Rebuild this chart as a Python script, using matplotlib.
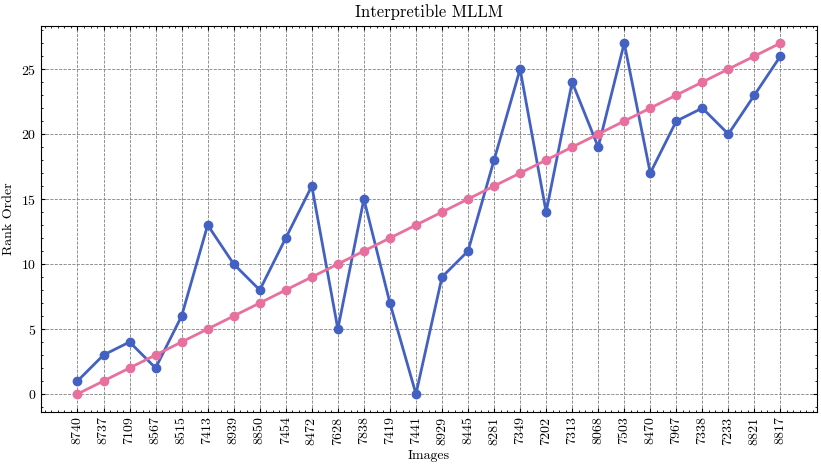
import matplotlib
matplotlib.use("Agg")
import matplotlib.pyplot as plt
from matplotlib.ticker import AutoMinorLocator

labels = ["8740","8737","7109","8567","8515","7413","8939","8850","7454","8472","7628","7838","7419","7441",
          "8929","8445","8281","7349","7202","7313","8068","7503","8470","7967","7338","7233","8821","8817"]
mllm = [1,3,4,2,6,13,10,8,12,16,5,15,7,0,9,11,18,25,14,24,19,27,17,21,22,20,23,26]
truth = list(range(28))

plt.rcParams['font.family'] = 'serif'
plt.rcParams['font.serif'] = ['cmr10']
plt.rcParams['axes.formatter.use_mathtext'] = True
plt.rcParams['xtick.direction'] = 'in'
plt.rcParams['ytick.direction'] = 'in'
plt.rcParams['xtick.top'] = True
plt.rcParams['ytick.right'] = True

fig, ax = plt.subplots(figsize=(8.21, 4.65), dpi=100)
x = list(range(len(labels)))
ax.plot(x, mllm, '-o', color='#4361c2', lw=2, ms=6, zorder=3)
ax.plot(x, truth, '-o', color='#e8709f', lw=2, ms=6, zorder=3)
ax.set_xticks(x)
ax.set_xticklabels(labels, rotation=90)
ax.yaxis.set_minor_locator(AutoMinorLocator())
ax.xaxis.set_minor_locator(AutoMinorLocator(4))
ax.tick_params(which='major', length=3)
ax.tick_params(which='minor', length=1.5)
ax.grid(True, ls='--', color='gray', lw=0.6)
ax.set_title('Interpretible MLLM')
ax.set_xlabel('Images')
ax.set_ylabel('Rank Order')
ax.set_xlim(-1.4, 28.4)
fig.subplots_adjust(left=0.05, right=0.995, top=0.945, bottom=0.115)
fig.savefig('out.png')
